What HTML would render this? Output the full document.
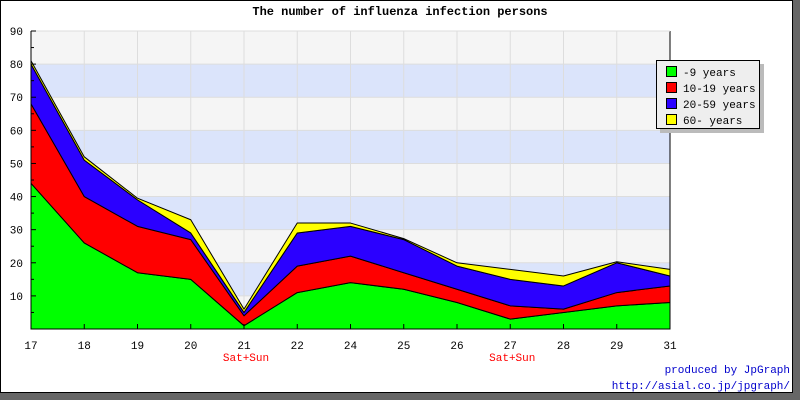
<!DOCTYPE html>
<html><head><meta charset="utf-8"><style>
body{margin:0;width:800px;height:400px;overflow:hidden;background:#fff}
svg text{font-family:"Liberation Mono",monospace}
</style></head><body>
<svg width="800" height="400" xmlns="http://www.w3.org/2000/svg">
<rect x="0" y="0" width="800" height="400" fill="#666"/>
<rect x="0.5" y="0.5" width="792" height="392" fill="#fff" stroke="#000"/>
<text x="400" y="15" text-anchor="middle" font-size="12" font-weight="bold">The number of influenza infection persons</text>
<g id="bands"></g><g id="grid"></g><g id="areas"></g><g id="axes"></g>
<g>
<rect x="660" y="64" width="104" height="69" fill="#bbb"/>
<rect x="656.5" y="60.5" width="103" height="68" fill="#eee" stroke="#000"/>
<g id="legend"></g>
</g>
<text x="790" y="373" text-anchor="end" font-size="11" fill="#00c">produced by JpGraph</text>
<text x="790" y="389" text-anchor="end" font-size="11" fill="#00c">http://asial.co.jp/jpgraph/</text>
</svg>
<script>
const categories=["17","18","19","20","21","22","24","25","26","27","28","29","31"];
const weekendLabels=["","","","","Sat+Sun","","","","","Sat+Sun","","",""];
const age0_9=[44,26,17,15,1,11,14,12,8,3,5,7,8];
const age10_19=[24,14,14,12,3,8,8,5,4,4,1,4,5];
const age20_59=[12,11,8,2,1,10,9,10,7,8,7,9,3];
const age60=[1,1,0.5,4,1,3,1,0.3,1,3,3,0.3,2];
const seriesNames=["-9 years","10-19 years","20-59 years","60- years"];
const yTicks=[10,20,30,40,50,60,70,80,90];
const NS="http://www.w3.org/2000/svg";
const X0=31,X1=670,Y0=329,Y1=31,YMAX=90;
const xs=i=>X0+(X1-X0)*i/(categories.length-1);
const ys=v=>Y0-(Y0-Y1)*v/YMAX;
function mk(tag,attrs,parent){const e=document.createElementNS(NS,tag);for(const k in attrs)e.setAttribute(k,attrs[k]);document.getElementById(parent).appendChild(e);return e;}
for(let b=0;b<9;b++){
 const r=mk('rect',{x:X0,y:ys(b*10+10),width:X1-X0,height:ys(b*10)-ys(b*10+10),fill:b%2?'#dbe4fb':'#f5f5f5'},'bands');
 
 
}
yTicks.forEach(t=>{const l=mk('line',{x1:X0,x2:X1,y1:ys(t),y2:ys(t),stroke:'#ddd'},'grid');
 
 });
categories.forEach((c,i)=>{const l=mk('line',{x1:xs(i),x2:xs(i),y1:Y1,y2:Y0,stroke:'#ddd'},'grid');
 
 });
const series=[age0_9,age10_19,age20_59,age60];
const colors=['#00ff00','#ff0000','#2b00ff','#ffff00'];
const keys=['area-0-9','area-10-19','area-20-59','area-60'];
let base=categories.map(()=>0);
series.forEach((s,k)=>{
 const top=base.map((b,i)=>b+s[i]);
 let d='M'+categories.map((c,i)=>xs(i)+','+ys(top[i])).join(' L');
 for(let i=categories.length-1;i>=0;i--)d+=' L'+xs(i)+','+ys(base[i]);
 d+='Z';
 const p=mk('path',{d:d,fill:colors[k],stroke:'#000','stroke-width':1,'stroke-linejoin':'round'},'areas');
 
 
 base=top;
});
const ax=mk('path',{d:`M${X0},${Y1} L${X0},${Y0} L${X1},${Y0} L${X1},${Y1}`,fill:'none',stroke:'#000'},'axes');


const tl=mk('line',{x1:X0,x2:X1,y1:Y1,y2:Y1,stroke:'#ddd'},'axes');


for(let v=5;v<=90;v+=5){const t=mk('line',{x1:X0,x2:X0+(v%10?3:5),y1:ys(v),y2:ys(v),stroke:'#000'},'axes');
 
 }
yTicks.forEach(t=>{const e=mk('text',{x:X0-8,y:ys(t)+4,'text-anchor':'end','font-size':11},'axes');e.textContent=t;
 
 });
categories.forEach((c,i)=>{
 const t=mk('line',{x1:xs(i),x2:xs(i),y1:Y0,y2:Y0-5,stroke:'#000'},'axes');
 
 
 const e=mk('text',{x:xs(i),y:Y0+20,'text-anchor':'middle','font-size':11},'axes');e.textContent=c;
 
 
 if(weekendLabels[i]){const w=mk('text',{x:xs(i)+2,y:Y0+32,'text-anchor':'middle','font-size':11,fill:'#f00'},'axes');w.textContent=weekendLabels[i];
 
 }
});
seriesNames.forEach((n,k)=>{
 const y=66+k*16;
 const r=mk('rect',{x:666.5,y:y+0.5,width:10,height:10,fill:colors[k],stroke:'#000'},'legend');
 
 
 const t=mk('text',{x:683,y:y+10,'font-size':11},'legend');t.textContent=n;
 
 
});
</script>
</body></html>
